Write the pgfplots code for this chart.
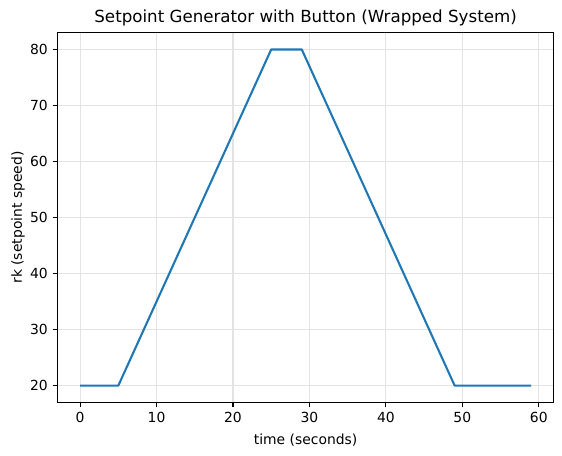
\documentclass[border=0pt]{standalone}
\usepackage{fontspec}
\setmainfont{DejaVu Sans}
\usepackage{pgfplots}
\pgfplotsset{compat=1.18}
\definecolor{mplblue}{HTML}{1F77B4}
\begin{document}
\begin{tikzpicture}
\begin{axis}[
  scale only axis,
  width=357pt, height=266.1pt,
  xmin=-2.95, xmax=61.95,
  ymin=17, ymax=83,
  xtick={0,10,...,60},
  ytick={20,30,...,80},
  grid=major,
  grid style={line width=0.8pt, color=black!11},
  axis line style={line width=0.8pt},
  tick style={line width=0.8pt, color=black},
  tick align=outside,
  major tick length=3.5pt,
  xtick pos=bottom, ytick pos=left,
  /pgf/number format/assume math mode=true,
  tick label style={font=\fontsize{10}{12}\selectfont},
  label style={font=\fontsize{10}{12}\selectfont},
  title style={font=\fontsize{12}{14}\selectfont, yshift=-5pt},
  title={Setpoint Generator with Button (Wrapped System)},
  xlabel={time (seconds)},
  ylabel={rk (setpoint speed)},
  xlabel style={yshift=-1pt},
  ylabel style={yshift=-3pt},
]
\addplot[mplblue, line width=1.5pt, line join=round] coordinates {
(0,20) (5,20) (25,80) (29,80) (49,20) (59,20)
};
\end{axis}
\pgfresetboundingbox
\path (current axis.south west)+(-41.4pt,-37.9pt) rectangle ([xshift=6pt,yshift=23.5pt]current axis.north east);
\end{tikzpicture}
\end{document}
